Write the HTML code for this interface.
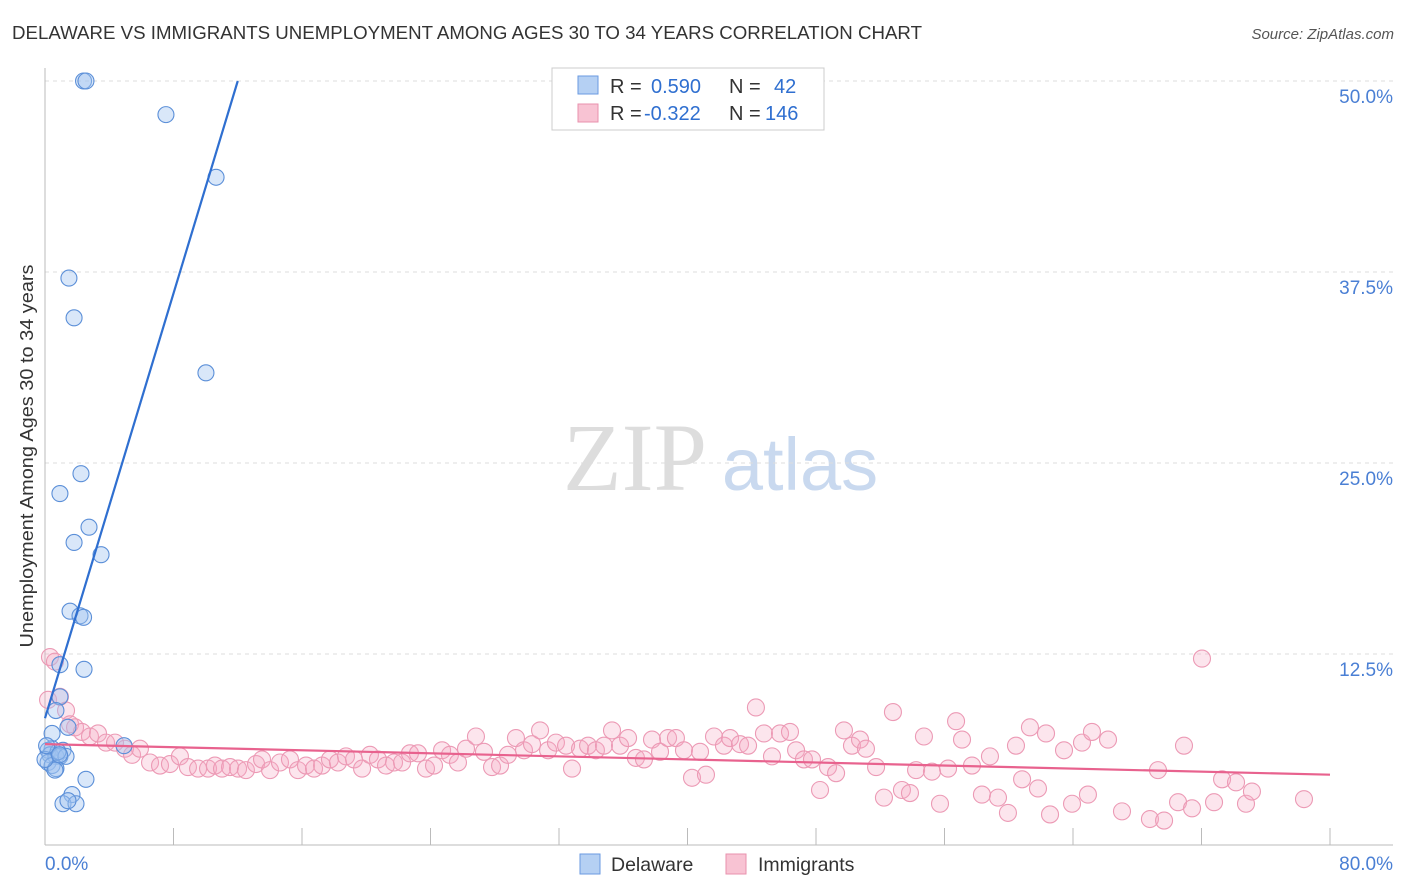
<!DOCTYPE html>
<html><head><meta charset="utf-8"><style>
body{margin:0;background:#fff;font-family:"Liberation Sans",sans-serif}
svg{display:block}
</style></head><body>
<svg id="chart" width="1406" height="892">
<text x="12" y="39" font-size="18" fill="#333" textLength="910" lengthAdjust="spacingAndGlyphs">DELAWARE VS IMMIGRANTS UNEMPLOYMENT AMONG AGES 30 TO 34 YEARS CORRELATION CHART</text>
<text x="1394" y="39" font-size="15" fill="#555" font-style="italic" text-anchor="end">Source: ZipAtlas.com</text>
<g>
<text x="635" y="490" font-size="96" font-family="Liberation Serif,serif" fill="#ddd" text-anchor="middle">ZIP</text>
<text x="800" y="490" font-size="74" fill="#c9d9ef" text-anchor="middle">atlas</text>
</g>
<g id="grid"></g>
<g id="axes"></g>
<g id="pts"></g>
<g id="lines"></g>
<text x="33" y="456" font-size="18" fill="#333" text-anchor="middle" textLength="383" lengthAdjust="spacingAndGlyphs" transform="rotate(-90 33 456)">Unemployment Among Ages 30 to 34 years</text>
<text x="45" y="870" font-size="19" fill="#4a7fd4">0.0%</text>
<text x="1393" y="870" font-size="19" fill="#4a7fd4" text-anchor="end">80.0%</text>
<g>
<rect x="552" y="68" width="272" height="62" fill="#fff" stroke="#ccc"/>
<rect x="578" y="76" width="20" height="18" fill="#b5d0f3" stroke="#6a9ae0"/>
<rect x="578" y="104" width="20" height="18" fill="#f8c3d3" stroke="#e892ae"/>
<text y="93" font-size="20" fill="#333"><tspan x="610">R =</tspan><tspan x="651" fill="#2f6fd0">0.590</tspan><tspan x="729">N =</tspan><tspan x="774" fill="#2f6fd0">42</tspan></text>
<text y="120" font-size="20" fill="#333"><tspan x="610">R =</tspan><tspan x="644" fill="#2f6fd0">-0.322</tspan><tspan x="729">N =</tspan><tspan x="765" fill="#2f6fd0">146</tspan></text>
</g>
<g>
<rect x="580" y="854" width="20" height="20" fill="#b5d0f3" stroke="#6a9ae0"/>
<text x="611" y="871" font-size="19.5" fill="#333">Delaware</text>
<rect x="726" y="854" width="20" height="20" fill="#f8c3d3" stroke="#e892ae"/>
<text x="758" y="871" font-size="19.5" fill="#333">Immigrants</text>
</g>
</svg>
<script>
const yTicks=[12.5,25,37.5,50];
const yTickLabels=["12.5%","25.0%","37.5%","50.0%"];
const xTicks=[0,8,16,24,32,40,48,56,64,72,80];
const blueX=[2.4,2.55,7.53,10.65,1.49,1.81,10.02,2.24,0.93,2.74,1.81,3.49,1.56,2.18,2.43,0.93,0.93,0.68,0.44,1.43,4.92,0.44,1.12,0.19,0.31,0.68,0.93,1.31,0.19,0.44,0.68,0.62,2.55,1.68,1.12,1.93,1.43,0.81,0.0,0.1,2.4,0.9];
const blueY=[50,50,47.8,43.7,37.1,34.5,30.9,24.3,23.0,20.8,19.8,19.0,15.3,15.0,11.5,11.8,9.7,8.8,7.3,7.7,6.5,6.3,6.2,6.2,5.9,5.8,5.8,5.8,5.4,5.2,5.0,4.9,4.3,3.3,2.7,2.7,2.9,6.1,5.6,6.5,14.9,5.9];
const pinkX=[0.31,0.62,0.19,0.93,1.31,1.56,1.87,2.3,2.8,3.3,3.8,4.36,4.98,5.42,5.91,6.54,7.16,7.78,8.4,8.9,9.53,10.15,10.58,11.02,11.52,12.02,12.51,13.14,13.51,14.01,14.63,15.25,15.75,16.25,16.75,17.25,17.74,18.24,18.74,19.24,19.74,20.23,20.73,21.23,21.73,22.23,22.72,23.22,23.72,24.22,24.72,25.21,25.71,26.21,26.83,27.33,27.83,28.33,28.82,29.32,29.82,30.32,30.82,31.32,31.81,32.44,32.81,33.31,33.81,34.3,34.8,35.3,35.8,36.3,36.79,37.29,37.79,38.29,38.79,39.28,39.78,40.28,40.78,41.15,41.65,42.27,42.65,43.27,43.77,44.26,44.76,45.26,45.76,46.38,46.76,47.25,47.75,48.25,48.75,49.25,49.74,50.24,50.74,51.11,51.74,52.23,52.79,53.35,53.85,54.23,54.72,55.22,55.72,56.22,56.72,57.09,57.71,58.33,58.83,59.33,59.95,60.45,60.83,61.32,61.82,62.32,62.57,63.44,63.94,64.56,64.93,65.18,66.18,67.05,68.79,69.29,69.67,70.54,70.91,71.41,72.03,72.78,73.28,74.15,74.77,75.14,78.38];
const pinkY=[12.3,12.0,9.5,9.7,8.8,7.9,7.7,7.4,7.1,7.3,6.7,6.7,6.3,5.9,6.3,5.4,5.2,5.3,5.8,5.1,5.0,5.0,5.2,5.0,5.1,5.0,4.9,5.3,5.6,4.9,5.4,5.6,4.9,5.2,5.0,5.2,5.6,5.4,5.8,5.6,5.0,5.9,5.6,5.2,5.4,5.4,6.0,6.0,5.0,5.2,6.2,5.9,5.4,6.3,7.1,6.1,5.1,5.2,5.9,7.0,6.2,6.6,7.5,6.2,6.7,6.5,5.0,6.3,6.5,6.2,6.5,7.5,6.5,7.0,5.7,5.6,6.9,6.1,7.0,7.0,6.2,4.4,6.1,4.6,7.1,6.5,7.0,6.6,6.5,9.0,7.3,5.8,7.3,7.4,6.2,5.6,5.6,3.6,5.1,4.7,7.5,6.5,6.9,6.3,5.1,3.1,8.7,3.6,3.4,4.9,7.1,4.8,2.7,5.0,8.1,6.9,5.2,3.3,5.8,3.1,2.1,6.5,4.3,7.7,3.7,7.3,2.0,6.2,2.7,6.7,3.3,7.4,6.9,2.2,1.7,4.9,1.6,2.8,6.5,2.4,12.2,2.8,4.3,4.1,2.7,3.5,3.0];
const blueFit=[8.3,3.475];   // intercept, slope
const pinkFit=[6.6,-0.025];
const NS="http://www.w3.org/2000/svg";
const X0=45,X1=1330,Y0=845,Y1=81;
const sx=v=>X0+(X1-X0)*v/80;
const sy=v=>Y0-(Y0-Y1)*v/50;
function mk(tag,attrs,parent){const e=document.createElementNS(NS,tag);for(const k in attrs)e.setAttribute(k,attrs[k]);parent.appendChild(e);return e;}
const grid=document.getElementById('grid');
yTicks.forEach((t,i)=>{
  const l=mk('line',{x1:X0,x2:1393,y1:sy(t),y2:sy(t),stroke:'#ddd','stroke-dasharray':'4,4'},grid);
  
  
  const tx=mk('text',{x:1393,y:sy(t)+22,'font-size':19,fill:'#4a7fd4','text-anchor':'end'},grid);
  tx.textContent=yTickLabels[i];
  
  
});
const axes=document.getElementById('axes');
const ya=mk('line',{x1:X0,x2:X0,y1:68,y2:Y0,stroke:'#bbb'},axes);


const xa=mk('line',{x1:X0,x2:1393,y1:Y0,y2:Y0,stroke:'#bbb'},axes);


xTicks.forEach(t=>{
  const l=mk('line',{x1:sx(t),x2:sx(t),y1:828,y2:Y0,stroke:'#bbb'},axes);
  
  
});
const pts=document.getElementById('pts');
pinkX.forEach((v,i)=>{
  const c=mk('circle',{cx:sx(v),cy:sy(pinkY[i]),r:8.5,fill:'rgba(245,170,195,0.3)',stroke:'#ec9ab5','stroke-width':1.1},pts);
  
  
});
blueX.forEach((v,i)=>{
  const c=mk('circle',{cx:sx(v),cy:sy(blueY[i]),r:8,fill:'rgba(160,195,240,0.4)',stroke:'#5b8fd8','stroke-width':1.1},pts);
  
  
});
const lines=document.getElementById('lines');
const bxEnd=(50-blueFit[0])/blueFit[1];
const bl=mk('line',{x1:sx(0),y1:sy(blueFit[0]),x2:sx(bxEnd),y2:sy(50),stroke:'#2f6fd0','stroke-width':2.2},lines);


const pl=mk('line',{x1:sx(0),y1:sy(pinkFit[0]),x2:sx(80),y2:sy(pinkFit[0]+pinkFit[1]*80),stroke:'#e8628e','stroke-width':2.2},lines);


</script>
</body></html>
